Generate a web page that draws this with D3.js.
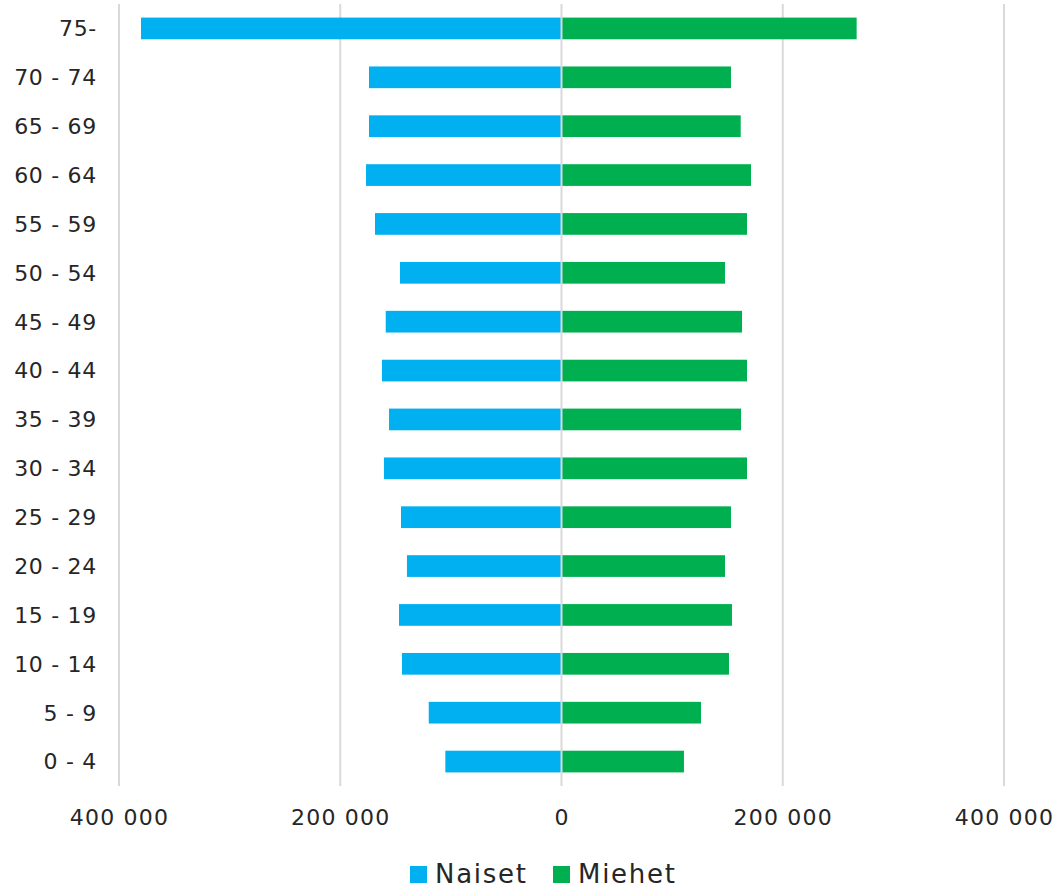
<!DOCTYPE html>
<html>
<head>
<meta charset="utf-8">
<script src="https://cdn.jsdelivr.net/npm/d3@7"></script>
<style>
  html, body { margin: 0; padding: 0; background: #fff; }
  svg { display: block; }
  text { font-family: "DejaVu Sans", sans-serif; fill: #262626; }
</style>
</head>
<body>
<svg id="chart" width="1061" height="889"></svg>
<script>
const categories = ["75-", "70 - 74", "65 - 69", "60 - 64", "55 - 59", "50 - 54", "45 - 49", "40 - 44",
  "35 - 39", "30 - 34", "25 - 29", "20 - 24", "15 - 19", "10 - 14", "5 - 9", "0 - 4"];
const naiset = [380100, 174000, 174000, 176700, 168600, 146000, 158900, 162300,
  155900, 160500, 145100, 139700, 146900, 144200, 120000, 105000];
const miehet = [266800, 153200, 162000, 171300, 167700, 147800, 163200, 167700,
  162300, 167700, 153200, 147800, 154100, 151400, 126100, 110700];
const tickValues = [-400000, -200000, 0, 200000, 400000];
const seriesNames = ["Naiset", "Miehet"];
const colors = ["#00B0F0", "#00B050"];

const svg = d3.select("#chart");
const x = d3.scaleLinear().domain([-400000, 400000]).range([119, 1004]);
const y = d3.scaleBand().domain(categories).range([4, 786]).paddingInner(0.556).paddingOuter(0.278);

const loc = d3.formatLocale({decimal: ",", thousands: "\u00a0", grouping: [3], currency: ["", ""]});
const fmt = loc.format(",d");

// gridlines
svg.append("g").selectAll("line").data(tickValues.filter(d => d !== 0)).join("line")
  .attr("x1", d => x(d)).attr("x2", d => x(d))
  .attr("y1", 4).attr("y2", 786)
  .attr("stroke", "#d9d9d9").attr("stroke-width", 2);

// bars
svg.append("g").selectAll("rect").data(categories).join("rect")
  .attr("x", (d, i) => x(-naiset[i]))
  .attr("width", (d, i) => x(0) - x(-naiset[i]))
  .attr("y", d => y(d)).attr("height", y.bandwidth())
  .attr("fill", colors[0]);
svg.append("g").selectAll("rect").data(categories).join("rect")
  .attr("x", x(0))
  .attr("width", (d, i) => x(miehet[i]) - x(0))
  .attr("y", d => y(d)).attr("height", y.bandwidth())
  .attr("fill", colors[1]);

// zero line
svg.append("line").attr("x1", x(0)).attr("x2", x(0)).attr("y1", 4).attr("y2", 786)
  .attr("stroke", "#d9d9d9").attr("stroke-width", 2);

// y axis labels
const yAxis = d3.axisLeft(y).tickSize(0).tickPadding(0);
const gy = svg.append("g").attr("transform", "translate(97,0)").call(yAxis);
gy.select(".domain").remove();
gy.selectAll("text").attr("font-size", 22).attr("letter-spacing", "0.7px")
  .style("font-family", "DejaVu Sans").attr("fill", "#262626").attr("dy", "0.36em");

// x axis labels
const xAxis = d3.axisBottom(x).tickValues(tickValues).tickSize(0).tickPadding(0)
  .tickFormat(d => fmt(Math.abs(d)));
const gx = svg.append("g").attr("transform", "translate(0,825)").call(xAxis);
gx.select(".domain").remove();
gx.selectAll("text").attr("dy", 0).attr("y", 0).attr("font-size", 22)
  .attr("letter-spacing", "1.2px").style("font-family", "DejaVu Sans").attr("fill", "#262626");

// legend
const legendX = [410, 553];
const lg = svg.append("g");
seriesNames.forEach((name, i) => {
  lg.append("rect").attr("x", legendX[i]).attr("y", 866).attr("width", 17).attr("height", 17).attr("fill", colors[i]);
  lg.append("text").attr("x", legendX[i] + 25).attr("y", 883).attr("font-size", 26)
    .attr("letter-spacing", "1.7px").text(name);
});
</script>
</body>
</html>
